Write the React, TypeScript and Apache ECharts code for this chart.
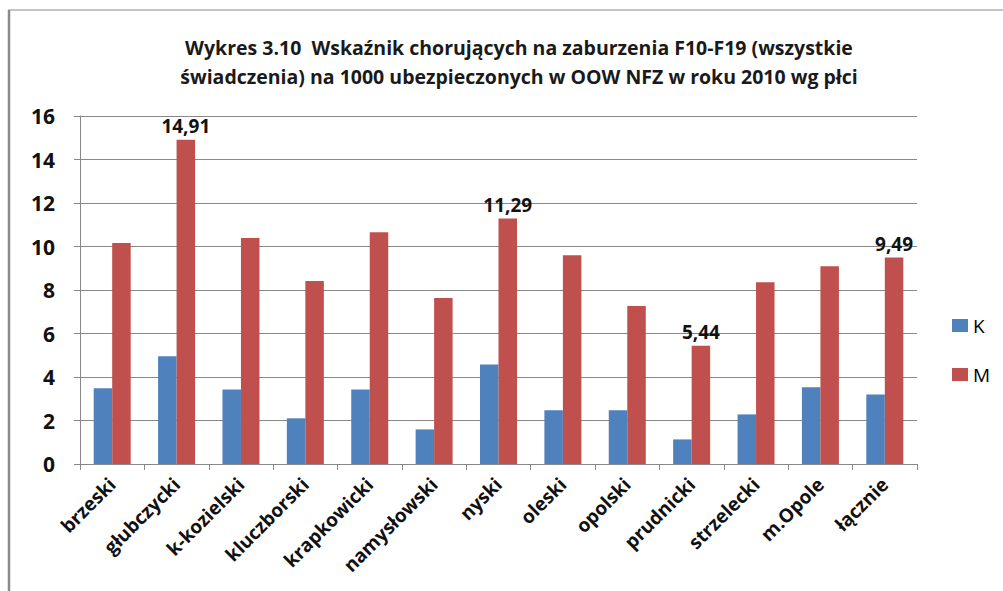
import React, { useEffect, useRef } from "react";
import * as echarts from "echarts";

const categories = [
  "brzeski", "głubczycki", "k-kozielski", "kluczborski", "krapkowicki", "namysłowski",
  "nyski", "oleski", "opolski", "prudnicki", "strzelecki", "m.Opole", "łącznie",
];
const valuesK = [3.48, 4.95, 3.43, 2.1, 3.43, 1.59, 4.58, 2.47, 2.47, 1.13, 2.28, 3.53, 3.2];
const valuesM = [10.16, 14.91, 10.39, 8.41, 10.66, 7.63, 11.29, 9.6, 7.26, 5.44, 8.36, 9.09, 9.49];
const labelledM = ["głubczycki", "nyski", "prudnicki", "łącznie"];
const yTicks = { min: 0, max: 16, interval: 2 };
const titleLines = [
  "Wykres 3.10  Wskaźnik chorujących na zaburzenia F10-F19 (wszystkie",
  "świadczenia) na 1000 ubezpieczonych w OOW NFZ w roku 2010 wg płci",
];

const FONT = "Open Sans";

export default function App() {
  const ref = useRef<HTMLDivElement>(null);
  useEffect(() => {
    if (!ref.current) return;
    const chart = echarts.init(ref.current, null, { renderer: "svg" });
    chart.setOption({
      animation: false,
      backgroundColor: "#ffffff",
      textStyle: { fontFamily: FONT },
      title: {
        text: titleLines.join("\n"),
        left: 514,
        textAlign: "center",
        top: 28,
        textStyle: {
          fontFamily: FONT,
          fontSize: 19.5,
          fontWeight: "bold",
          color: "#1a1a1a",
          lineHeight: 29,
        },
      },
      legend: {
        orient: "vertical",
        left: 947,
        top: 311,
        itemWidth: 16,
        itemHeight: 13,
        itemGap: 30,
        icon: "rect",
        textStyle: { fontFamily: FONT, fontSize: 19, color: "#000" },
        data: ["K", "M"],
      },
      grid: { left: 80, right: 86, top: 116, bottom: 127, containLabel: false },
      xAxis: {
        type: "category",
        data: categories,
        axisLine: { lineStyle: { color: "#888888", width: 1 } },
        axisTick: { show: true, length: 6, lineStyle: { color: "#888888" }, alignWithLabel: false },
        axisLabel: {
          rotate: 45,
          interval: 0,
          margin: 17,
          fontFamily: FONT,
          fontSize: 19,
          fontWeight: "bold",
          color: "#111",
        },
      },
      yAxis: {
        type: "value",
        min: yTicks.min,
        max: yTicks.max,
        interval: yTicks.interval,
        axisLine: { show: true, lineStyle: { color: "#888888" } },
        axisTick: { show: true, length: 6, inside: false, lineStyle: { color: "#888888" } },
        splitLine: { lineStyle: { color: "#888888", width: 1 } },
        axisLabel: {
          fontFamily: FONT,
          fontSize: 21,
          fontWeight: "bold",
          color: "#111",
          margin: 25,
        },
      },
      series: [
        {
          name: "K",
          type: "bar",
          data: valuesK,
          barWidth: 18.5,
          barGap: "0%",
          itemStyle: { color: "#4F81BD" },
        },
        {
          name: "M",
          type: "bar",
          data: valuesM.map((v, i) => ({
            value: v,
            label: {
              show: labelledM.includes(categories[i]),
              position: "top",
              distance: 4,
              formatter: (p: any) => String(p.value).replace(".", ","),
              fontFamily: FONT,
              fontSize: 19,
              fontWeight: "bold",
              color: "#111",
            },
          })),
          barWidth: 18.5,
          barGap: "0%",
          itemStyle: { color: "#C0504D" },
        },
      ],
      graphic: [
        {
          type: "line",
          shape: { x1: 8, y1: 10, x2: 1003, y2: 10 },
          style: { stroke: "#8a8a8a", lineWidth: 1 },
        },
        {
          type: "line",
          shape: { x1: 9, y1: 10, x2: 9, y2: 591 },
          style: { stroke: "#8a8a8a", lineWidth: 2.5 },
        },
      ],
    });
    return () => chart.dispose();
  }, []);
  return (
    <div
      ref={ref}
      style={{ position: "fixed", left: 0, top: 0, width: 1003, height: 591 }}
    />
  );
}
